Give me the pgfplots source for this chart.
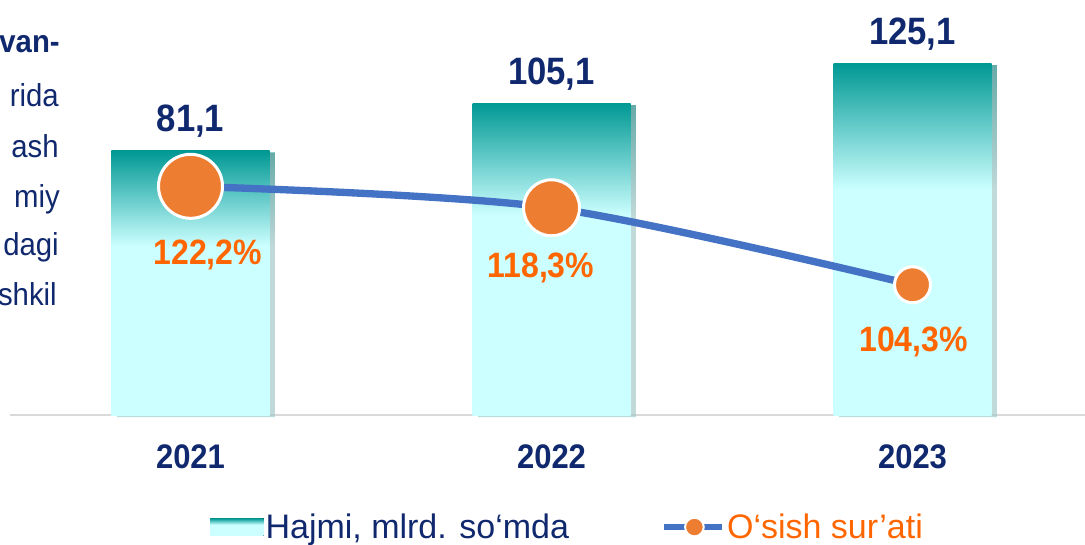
\documentclass[border=0pt]{standalone}
\usepackage{fontspec}
\setmainfont{Liberation Sans}
\usepackage{graphicx}
\usepackage{pgfplots}
\pgfplotsset{compat=1.18}
\usetikzlibrary{shadows}

\definecolor{navy}{RGB}{16,40,110}
\definecolor{tealtop}{RGB}{0,152,148}
\definecolor{cyanlt}{RGB}{204,255,255}
\definecolor{orng}{RGB}{237,125,49}
\definecolor{pcttext}{RGB}{255,102,0}
\definecolor{lineblue}{RGB}{68,114,196}
\definecolor{basegray}{RGB}{217,217,217}

% bar fill: solid light cyan in the lower part, teal fade in the top third
\pgfdeclareverticalshading{barshade}{100bp}{color(0bp)=(cyanlt); color(57bp)=(cyanlt); color(75bp)=(tealtop); color(100bp)=(tealtop)}

\newcommand\vs[1]{\scalebox{1}[1.1]{#1}}

\begin{document}
\begin{tikzpicture}
\begin{scope}[x=0.75pt,y=0.75pt]
\useasboundingbox (0,0) rectangle (1085,544);
\end{scope}
\clip (0pt,0pt) rectangle (813.75pt,408pt);

% cut-off text from the slide on the left
\begin{scope}[x=0.75pt,y=0.75pt, every node/.style={anchor=base east, inner sep=0pt, text=navy, font=\fontsize{22}{24}\selectfont}]
\node at (60,491) {\scalebox{1}[1.08]{\textbf{van-}}};
\node at (59,437) {\scalebox{1}[1.08]{rida}};
\node at (59,387) {\scalebox{1}[1.08]{ash}};
\node at (60,337) {\scalebox{1}[1.08]{miy}};
\node at (59,289) {\scalebox{1}[1.08]{dagi}};
\node at (57,239) {\scalebox{1}[1.08]{shkil}};
\draw[basegray, line width=2pt] (10,129) -- (1085,129);
\end{scope}

% volume bars
\begin{axis}[
    at={(0pt,96.75pt)}, anchor=south west, scale only axis,
    width=813.75pt, height=311.25pt,
    xmin=-0.5277, xmax=2.4778, ymin=-51.2, ymax=156.7,
    enlargelimits=false,
    y coord trafo/.code={\pgfmathparse{#1+51.2}},
    y coord inv trafo/.code={\pgfmathparse{#1-51.2}},
    axis line style={draw=none}, major tick length=0pt, ytick=\empty,
    xtick={0,1,2},
    xticklabels={\vs{\textbf{2021}},\vs{\textbf{2022}},\vs{\textbf{2023}}},
    xticklabel style={font=\fontsize{23.25}{24}\selectfont, text=navy, anchor=base, yshift=-39.75pt, inner sep=0pt},
    ybar, bar width=0.4377, bar shift=0pt,
    clip=false,
    point meta=explicit symbolic,
    nodes near coords={\vs{\textbf{\pgfplotspointmeta}}},
    every node near coord/.append style={font=\fontsize{26}{28}\selectfont, text=navy, anchor=base, yshift=14.25pt, inner sep=0pt},
    bar/.style={draw=none, shading=barshade, drop shadow={shadow xshift=4pt, shadow yshift=-1.5pt, opacity=0.45, fill=black!60}}
]
\addplot[bar] coordinates {(0,81.1) [81,1]};
\addplot[bar] coordinates {(1,105.1) [105,1]};
\addplot[bar] coordinates {(2,125.1) [125,1]};
\end{axis}

% growth rate line
\begin{axis}[
    at={(0pt,96.75pt)}, anchor=south west, scale only axis,
    width=813.75pt, height=311.25pt,
    xmin=-0.5277, xmax=2.4778, ymin=80.62, ymax=156.08,
    enlargelimits=false, hide axis, clip=false,
    legend style={at={(0.1935,-0.27)}, anchor=west, draw=none, fill=none, inner sep=0pt,
        nodes={inner sep=1.5pt, font=\fontsize{25.5}{27}\selectfont},
        /tikz/every even column/.append style={column sep=67pt}},
    legend columns=2, legend cell align=left,
    pct/.style={forget plot, only marks, mark=*,
        mark options={fill=orng, draw=white, line width=2.25pt},
        point meta=explicit symbolic,
        nodes near coords={\textbf{\pgfplotspointmeta}},
        every node near coord/.append style={font=\fontsize{24}{26}\selectfont, text=pcttext, anchor=center, inner sep=0pt}}
]
\addlegendimage{legend image code/.code={\fill[draw=none, shading=barshade] (0pt,-6.5pt) rectangle (40pt,6.5pt);}}
\addlegendentry{\textcolor{navy}{Hajmi, mlrd. so‘mda}}
\addplot[lineblue, line width=5.5pt, smooth, no markers,
    legend image code/.code={\draw[lineblue, line width=5pt] (0pt,0pt) -- (43.5pt,0pt);
        \fill[orng, draw=white, line width=1.5pt] (23pt,0pt) circle (7pt);}]
    coordinates {(0,122.2) (1,118.3) (2,104.3)};
\addlegendentry{\textcolor{pcttext}{O‘sish sur’ati}}
\addplot[pct, mark size=24pt, every node near coord/.append style={xshift=13pt, yshift=-51.5pt}]
    coordinates {(0,122.2) [\vs{122,2\%}]};
\addplot[pct, mark size=21pt, every node near coord/.append style={xshift=-8pt, yshift=-45pt}]
    coordinates {(1,118.3) [\vs{118,3\%}]};
\addplot[pct, mark size=13.5pt, every node near coord/.append style={xshift=0.75pt, yshift=-43pt}]
    coordinates {(2,104.3) [\vs{104,3\%}]};
\end{axis}
\end{tikzpicture}
\end{document}
